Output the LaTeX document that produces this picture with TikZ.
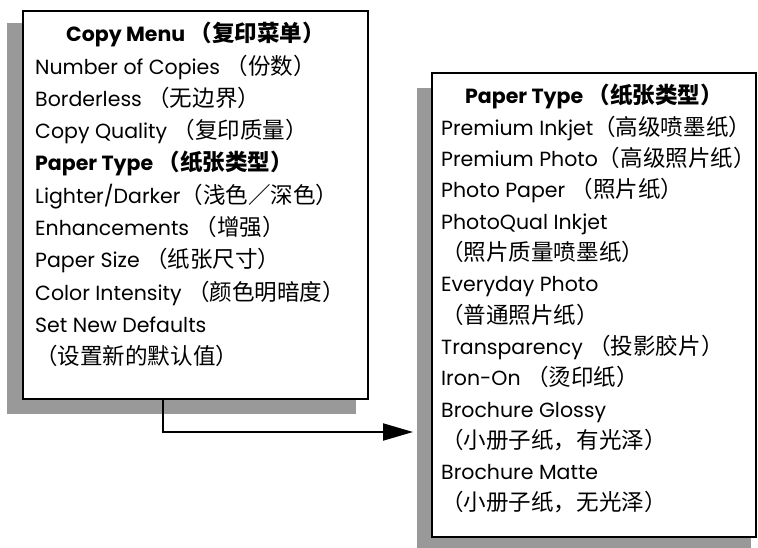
\documentclass[tikz,border=0pt]{standalone}
\usepackage{fontspec}
\setmainfont{Poppins}
\newfontfamily\zhfont{Noto Sans CJK SC}[Scale=1.1]
\newcommand{\zh}[1]{{\zhfont #1}}
\usetikzlibrary{arrows.meta,positioning,backgrounds}

\begin{document}
\begin{tikzpicture}[
    x=1pt, y=1pt,
    panel/.style={
      draw,line width=2pt,fill=white,inner sep=0pt
    },
    shadowbox/.style={fill=black!40},
    item/.style={inner sep=0pt,anchor=base west,font=\fontsize{20.5}{25}\selectfont},
    heading/.style={inner sep=0pt,font=\fontsize{20.5}{25}\selectfont\bfseries},
    flow/.style={line width=2pt,-{Triangle[length=30pt,width=17pt]}}
  ]
  \useasboundingbox (0,0) rectangle (758,-548);

  \node (menu)  [panel,minimum width=345pt,minimum height=388pt] at (195.5,-205) {};
  \node (paper) [panel,minimum width=324pt,minimum height=464pt] at (594,-305)   {};

  % shadows
  \begin{scope}[on background layer]
    \fill[shadowbox] ([shift={(-15,-13)}]menu.north west) rectangle ([shift={(-13,-14)}]menu.south east);
    \fill[shadowbox] ([shift={(-14,-16)}]paper.north west) rectangle ([shift={(-6,-16)}]paper.south east);
  \end{scope}

  \node (menutitle)  [heading,below=32pt of menu.north,anchor=base]  {Copy Menu \zh{（复印菜单）}};
  \node (papertitle) [heading,below=32pt of paper.north,anchor=base] {Paper Type \zh{（纸张类型）}};

  % menu entries
  \foreach \txt [count=\i] in {
      {Number of Copies \zh{（份数）}},
      {Borderless \zh{（无边界）}},
      {Copy Quality \zh{（复印质量）}},
      {\bfseries Paper Type \zh{（纸张类型）}},
      {Lighter/Darker\zh{（浅色／深色）}},
      {Enhancements \zh{（增强）}},
      {Paper Size \zh{（纸张尺寸）}},
      {Color Intensity \zh{（颜色明暗度）}},
      {Set New Defaults},
      {\zh{（设置新的默认值）}}} {
    \node (m\i) [item] at ([xshift=13pt,yshift=-32pt-32.25pt*\i]menu.north west) {\txt};
  }

  % paper types
  \foreach \txt [count=\i] in {
      {Premium Inkjet\zh{（高级喷墨纸）}},
      {Premium Photo\zh{（高级照片纸）}},
      {Photo Paper \zh{（照片纸）}},
      {PhotoQual Inkjet},
      {\zh{（照片质量喷墨纸）}},
      {Everyday Photo},
      {\zh{（普通照片纸）}},
      {Transparency \zh{（投影胶片）}},
      {Iron-On \zh{（烫印纸）}},
      {Brochure Glossy},
      {\zh{（小册子纸，有光泽）}},
      {Brochure Matte},
      {\zh{（小册子纸，无光泽）}}} {
    \node (p\i) [item] at ([xshift=10pt,yshift=-32pt-31.3pt*\i]paper.north west) {\txt};
  }

  % draw edge
  \coordinate (tip) at (413,-432);
  \draw [flow] ([xshift=-32.5pt]menu.south) |- (tip);
\end{tikzpicture}
\end{document}
